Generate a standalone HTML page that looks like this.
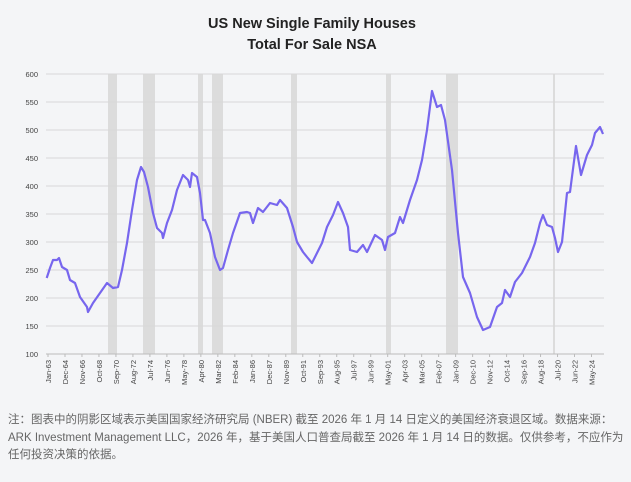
<!DOCTYPE html>
<html><head><meta charset="utf-8"><style>
body{margin:0;width:631px;height:482px;background:#f4f5f7;overflow:hidden;font-family:"Liberation Sans",sans-serif}
.note{position:absolute;left:8px;top:412px;width:620px;font-size:11.5px;line-height:17.5px;color:#666;font-family:"Liberation Sans","Noto Sans CJK SC",sans-serif}
</style></head><body>
<svg width="631" height="410" style="position:absolute;left:0;top:0" font-family="Liberation Sans, sans-serif">
<text x="312" y="28" text-anchor="middle" font-size="14.5" font-weight="bold" fill="#222">US New Single Family Houses</text>
<text x="312" y="49" text-anchor="middle" font-size="14.5" font-weight="bold" fill="#222">Total For Sale NSA</text>
<g fill="#dcdcdc">
<rect x="108" y="74" width="9" height="280"/><rect x="143" y="74" width="12" height="280"/>
<rect x="198" y="74" width="5" height="280"/><rect x="212" y="74" width="11" height="280"/>
<rect x="291" y="74" width="6" height="280"/><rect x="386" y="74" width="5" height="280"/>
<rect x="446" y="74" width="12" height="280"/><rect x="553" y="74" width="2" height="280"/>
</g>
<g stroke="#d8d8d8" stroke-width="1">
<line x1="46" x2="604" y1="74" y2="74"/><line x1="46" x2="604" y1="102" y2="102"/><line x1="46" x2="604" y1="130" y2="130"/><line x1="46" x2="604" y1="158" y2="158"/><line x1="46" x2="604" y1="186" y2="186"/><line x1="46" x2="604" y1="214" y2="214"/><line x1="46" x2="604" y1="242" y2="242"/><line x1="46" x2="604" y1="270" y2="270"/><line x1="46" x2="604" y1="298" y2="298"/><line x1="46" x2="604" y1="326" y2="326"/>
</g>
<line x1="46" x2="604" y1="354" y2="354" stroke="#bbb"/>
<g font-size="7.5" fill="#444" text-anchor="end">
<text x="38" y="77">600</text><text x="38" y="105">550</text><text x="38" y="133">500</text><text x="38" y="161">450</text><text x="38" y="189">400</text><text x="38" y="217">350</text><text x="38" y="245">300</text><text x="38" y="273">250</text><text x="38" y="301">200</text><text x="38" y="329">150</text><text x="38" y="357">100</text>
</g>
<g font-size="7.5" fill="#444" text-anchor="end" id="xl"></g>
<polyline fill="none" stroke="#7766ee" stroke-width="2.2" stroke-linejoin="round" points="46.7,278 50,268 53,260 57,260 59,258 62,267 67,270 70,280 75,283 80,297 87,307 88,312 93,303 100,293 107,283 113,288 118,287 122,270 127,243 132,210 137,180 141,167 144,172 148,187 153,213 157,228 162,233 163,238 167,223 172,210 177,190 183,175 188,180 190,187 192,173 197,177 200,193 203,220 205,220 210,233 215,257 220,270 223,268 228,250 233,233 240,213 247,212 250,213 253,223 258,208 263,212 270,203 277,205 280,200 287,208 293,227 297,242 303,252 307,257 312,263 317,253 322,243 327,227 333,215 338,202 343,213 348,227 350,250 357,252 363,245 367,252 375,235 382,240 385,250 388,237 395,233 400,217 403,223 410,200 417,180 422,160 427,130 432,91 437,107 441,105 445,120 452,170 458,233 463,277 470,293 477,317 483,330 490,327 497,307 502,303 505,290 510,297 515,282 522,273 530,257 535,243 540,223 543,215 547,225 552,227 555,238 558,252 562,242 567,193 570,192 576,146 581,175 587,155 592,145 595,133 600,127 603,134"/>
</svg>
<script>
var L=["Jan-63","Dec-64","Nov-66","Oct-68","Sep-70","Aug-72","Jul-74","Jun-76","May-78","Apr-80","Mar-82","Feb-84","Jan-86","Dec-87","Nov-89","Oct-91","Sep-93","Aug-95","Jul-97","Jun-99","May-01","Apr-03","Mar-05","Feb-07","Jan-09","Dec-10","Nov-12","Oct-14","Sep-16","Aug-18","Jul-20","Jun-22","May-24"];
var g=document.getElementById('xl'),s='';
for(var i=0;i<L.length;i++){var x=48+i*(591.5-48)/32;s+='<line x1="'+x+'" x2="'+x+'" y1="354" y2="357" stroke="#bbb"/><text transform="translate('+(x+3)+',360) rotate(-90)">'+L[i]+'</text>';}
g.innerHTML=s;
</script>
<div class="note">注：图表中的阴影区域表示美国国家经济研究局 (NBER) 截至 2026 年 1 月 14 日定义的美国经济衰退区域。数据来源：ARK Investment Management LLC，2026 年，基于美国人口普查局截至 2026 年 1 月 14 日的数据。仅供参考，不应作为任何投资决策的依据。</div>
</body></html>
